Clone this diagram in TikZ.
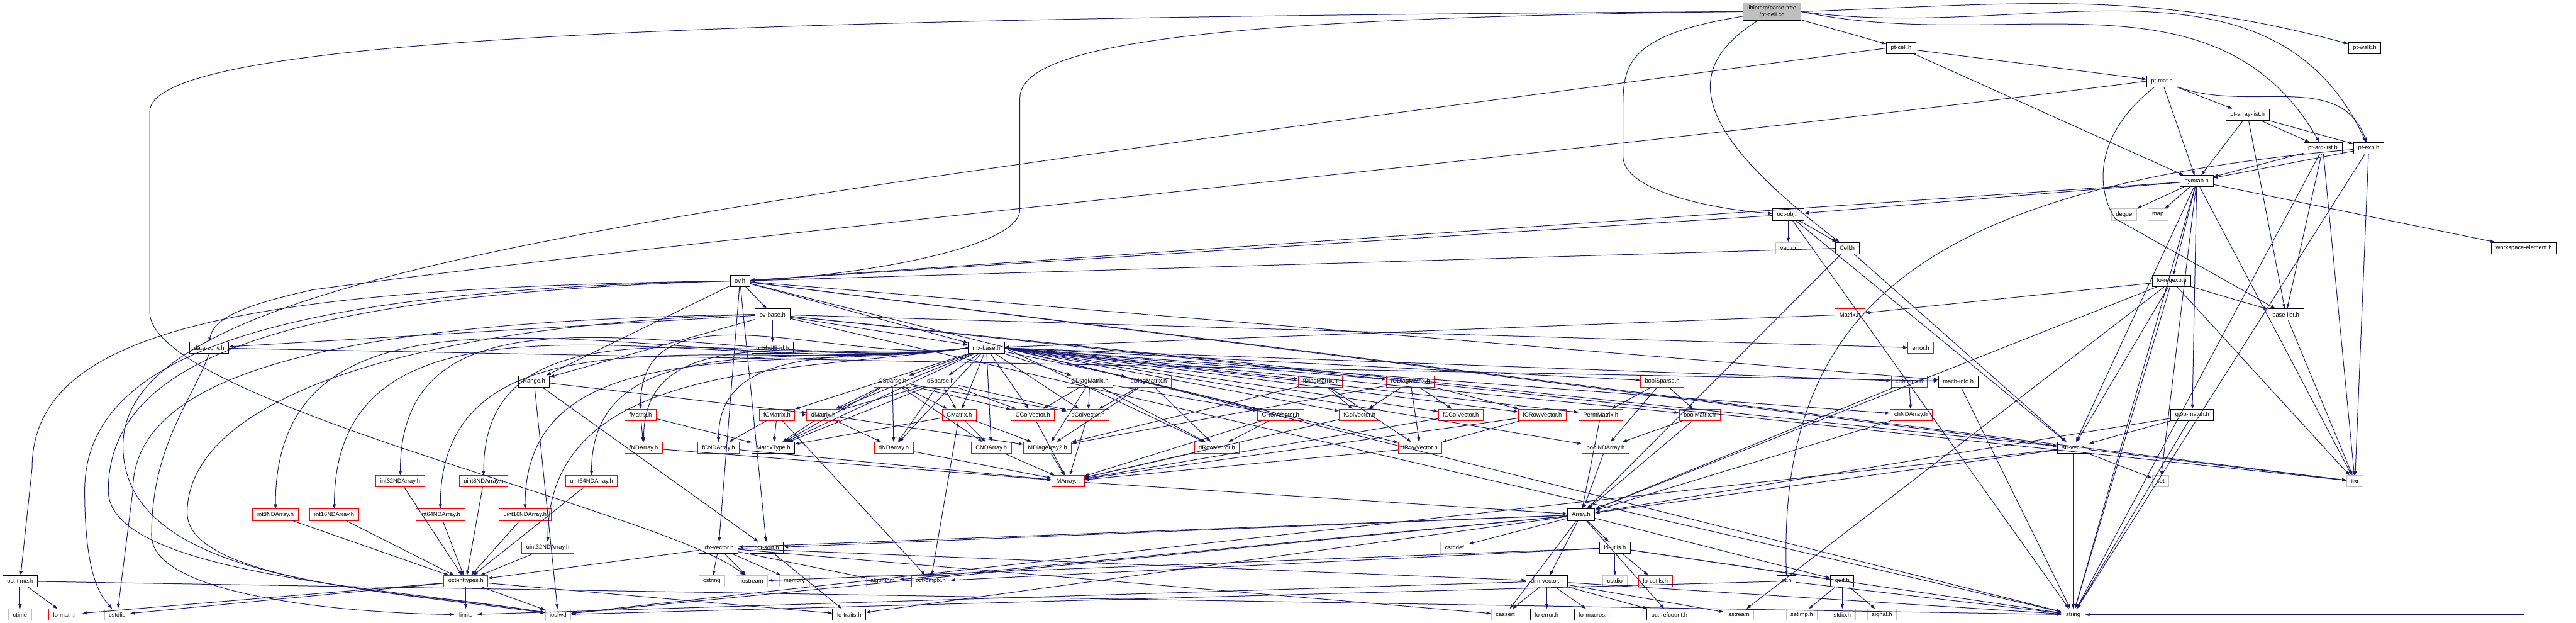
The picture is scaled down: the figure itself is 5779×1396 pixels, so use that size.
\documentclass[tikz,border=0pt]{standalone}
\usepackage{fontspec}
\setmainfont{Liberation Sans}
\usetikzlibrary{arrows.meta}
\definecolor{edgec}{RGB}{25,25,112}
\definecolor{rootfill}{RGB}{191,191,191}
\definecolor{gborder}{RGB}{191,191,191}
\definecolor{rborder}{RGB}{255,0,0}
\tikzset{
  nd/.style={rectangle, fill=white, font=\fontsize{3.75}{4.4}\selectfont, inner xsep=0.1cm, inner ysep=0pt, minimum height=0.255cm, line width=0.35pt},
  bnd/.style={nd, draw=black},
  rnd/.style={nd, draw=rborder},
  gnd/.style={nd, draw=gborder},
  rootnd/.style={nd, draw=black, fill=rootfill, align=center, minimum height=0.4cm, minimum width=1.28cm},
  e/.style={draw=edgec, line width=0.4pt, -{Triangle[length=1mm,width=0.7mm]}}
}
\begin{document}
\begin{tikzpicture}[x=0.01cm,y=-0.01cm]
\useasboundingbox (0,0) rectangle (5779,1396);
% nodes
\node[rootnd] (cc) at (3975,26) {libinterp/parse-tree\\/pt-cell.cc};
\node[bnd] (ptcellh) at (4265,108) {pt-cell.h};
\node[bnd] (ptwalk) at (5305,108) {pt-walk.h};
\node[bnd] (ptmat) at (4850,182) {pt-mat.h};
\node[bnd] (ptarraylist) at (5042,257) {pt-array-list.h};
\node[bnd] (ptarglist) at (5211,332) {pt-arg-list.h};
\node[bnd] (ptexp) at (5314,332) {pt-exp.h};
\node[bnd] (symtab) at (4928,406) {symtab.h};
\node[bnd] (octobj) at (4012,481) {oct-obj.h};
\node[gnd] (deque) at (4765,481) {deque};
\node[gnd] (map) at (4841,481) {map};
\node[gnd] (vector) at (4012,556) {vector};
\node[bnd] (cellh) at (4144,556) {Cell.h};
\node[bnd] (wse) at (5662,556) {workspace-element.h};
\node[bnd] (ovh) at (1660,630) {ov.h};
\node[bnd] (regexp) at (4872,630) {lo-regexp.h};
\node[bnd] (ovbase) at (1733,705) {ov-base.h};
\node[rnd] (matrixh) at (4150,705) {Matrix.h};
\node[bnd] (baselist) at (5128,705) {base-list.h};
\node[bnd] (dataconv) at (469,780) {data-conv.h};
\node[bnd] (hdf5) at (1733,780) {oct-hdf5-id.h};
\node[bnd] (mxbase) at (2213,780) {mx-base.h};
\node[rnd] (error) at (4309,780) {error.h};
\node[bnd] (range) at (1198,855) {Range.h};
\node[rnd] (csparse) at (2002,855) {CSparse.h};
\node[rnd] (dsparse) at (2110,855) {dSparse.h};
\node[rnd] (cdiag) at (2445,855) {CDiagMatrix.h};
\node[rnd] (ddiag) at (2577,855) {dDiagMatrix.h};
\node[rnd] (fdiag) at (2962,855) {fDiagMatrix.h};
\node[rnd] (fcdiag) at (3164,855) {fCDiagMatrix.h};
\node[rnd] (boolsparse) at (3729,855) {boolSparse.h};
\node[rnd] (chmatrix) at (4283,855) {chMatrix.h};
\node[bnd] (machinfo) at (4393,855) {mach-info.h};
\node[rnd] (fmatrix) at (1437,930) {fMatrix.h};
\node[rnd] (fcmatrix) at (1743,930) {fCMatrix.h};
\node[rnd] (dmatrix) at (1847,930) {dMatrix.h};
\node[rnd] (cmatrix) at (2152,930) {CMatrix.h};
\node[rnd] (ccolvec) at (2317,930) {CColVector.h};
\node[rnd] (dcolvec) at (2441,930) {dColVector.h};
\node[rnd] (crowvec) at (2873,930) {CRowVector.h};
\node[rnd] (fcolvec) at (3050,930) {fColVector.h};
\node[rnd] (fccolvec) at (3277,930) {fCColVector.h};
\node[rnd] (fcrowvec) at (3460,930) {fCRowVector.h};
\node[rnd] (permmatrix) at (3591,930) {PermMatrix.h};
\node[rnd] (boolmatrix) at (3813,930) {boolMatrix.h};
\node[rnd] (chndarray) at (4287,930) {chNDArray.h};
\node[bnd] (globmatch) at (4918,930) {glob-match.h};
\node[rnd] (fndarray) at (1444,1004) {fNDArray.h};
\node[rnd] (fcndarray) at (1612,1004) {fCNDArray.h};
\node[bnd] (matrixtype) at (1735,1004) {MatrixType.h};
\node[rnd] (dndarray) at (2005,1004) {dNDArray.h};
\node[rnd] (cndarray) at (2224,1004) {CNDArray.h};
\node[rnd] (mdiag2) at (2350,1004) {MDiagArray2.h};
\node[rnd] (drowvec) at (2730,1004) {dRowVector.h};
\node[rnd] (frowvec) at (3186,1004) {fRowVector.h};
\node[rnd] (boolnd) at (3602,1004) {boolNDArray.h};
\node[bnd] (strvec) at (4651,1004) {str-vec.h};
\node[rnd] (i32) at (898,1079) {int32NDArray.h};
\node[rnd] (u8) at (1085,1079) {uint8NDArray.h};
\node[rnd] (u64) at (1327,1079) {uint64NDArray.h};
\node[rnd] (marray) at (2396,1079) {MArray.h};
\node[gnd] (set) at (4847,1079) {set};
\node[gnd] (list) at (5283,1079) {list};
\node[rnd] (i8) at (618,1154) {int8NDArray.h};
\node[rnd] (i16) at (750,1154) {int16NDArray.h};
\node[rnd] (i64) at (988,1154) {int64NDArray.h};
\node[rnd] (u16) at (1178,1154) {uint16NDArray.h};
\node[bnd] (array) at (3547,1154) {Array.h};
\node[rnd] (u32) at (1229,1228) {uint32NDArray.h};
\node[bnd] (idxvec) at (1612,1228) {idx-vector.h};
\node[bnd] (octsort) at (1720,1228) {oct-sort.h};
\node[gnd] (cstddef) at (3263,1228) {cstddef};
\node[bnd] (loutils) at (3623,1228) {lo-utils.h};
\node[bnd] (octtime) at (45,1303) {oct-time.h};
\node[rnd] (inttypes) at (1045,1303) {oct-inttypes.h};
\node[gnd] (cstring) at (1597,1303) {cstring};
\node[gnd] (iostream) at (1687,1303) {iostream};
\node[gnd] (memory) at (1782,1303) {memory};
\node[gnd] (algorithm) at (1980,1303) {algorithm};
\node[rnd] (cmplx) at (2088,1303) {oct-cmplx.h};
\node[bnd] (dimvec) at (3470,1303) {dim-vector.h};
\node[gnd] (cstdio) at (3623,1303) {cstdio};
\node[rnd] (locutils) at (3714,1303) {lo-cutils.h};
\node[bnd] (pth) at (4008,1303) {pt.h};
\node[bnd] (quit) at (4133,1303) {quit.h};
\node[gnd] (ctime) at (45,1378) {ctime};
\node[rnd] (lomath) at (147,1378) {lo-math.h};
\node[gnd] (cstdlib) at (263,1378) {cstdlib};
\node[gnd] (limits) at (1045,1378) {limits};
\node[gnd] (iosfwd) at (1252,1378) {iosfwd};
\node[bnd] (lotraits) at (1905,1378) {lo-traits.h};
\node[gnd] (cassert) at (3377,1378) {cassert};
\node[bnd] (loerror) at (3470,1378) {lo-error.h};
\node[bnd] (lomacros) at (3577,1378) {lo-macros.h};
\node[bnd] (refcount) at (3745,1378) {oct-refcount.h};
\node[gnd] (sstream) at (3901,1378) {sstream};
\node[gnd] (setjmp) at (4042,1378) {setjmp.h};
\node[gnd] (stdio) at (4133,1378) {stdio.h};
\node[gnd] (signal) at (4222,1378) {signal.h};
\node[gnd] (string) at (4651,1378) {string};
% edges from pt-cell.cc
\draw[e] (cc.west) .. controls (1500,40) and (336,90) .. (336,250) -- (336,700) .. controls (336,900) and (1500,1150) .. (iostream);
\draw[e] (cc.west) .. controls (2700,40) and (2288,100) .. (2288,220) -- (2288,470) .. controls (2288,560) and (1900,620) .. (ovh);
\draw[e] (cc) .. controls (3641,80) and (3641,150) .. (3641,250) -- (3641,350) .. controls (3641,430) and (3850,470) .. (octobj);
\draw[e] (cc) .. controls (3780,150) and (3780,280) .. (cellh);
\draw[e] (cc) -- (ptcellh);
\draw[e] (cc.east) to[out=2,in=165] (ptwalk);
\draw[e] (cc.east) to[out=-8,in=115] (ptexp);
\draw[e] (cc.east) to[out=-12,in=120] (ptarglist);
% pt-cell.h
\draw[e] (ptcellh.west) .. controls (1500,470) and (276,600) .. (276,1000) .. controls (276,1320) and (900,1320) .. (iosfwd);
\foreach \t in {ptmat,symtab} \draw[e] (ptcellh) -- (\t);
% pt-mat.h
\draw[e] (ptmat.west) .. controls (3500,350) and (1500,540) .. (700,650) .. controls (520,690) and (479,720) .. (dataconv.north);
\foreach \t in {symtab,ptarraylist} \draw[e] (ptmat) -- (\t);
\draw[e] (ptmat) to[out=-20,in=110] (ptexp);
\draw[e] (ptmat) .. controls (4700,300) and (4700,420) .. (4745,490) -- (baselist);
\foreach \t in {symtab,baselist,ptarglist,ptexp} \draw[e] (ptarraylist) -- (\t);
\foreach \t in {symtab,baselist,list,string} \draw[e] (ptarglist) -- (\t);
\foreach \t in {symtab,string,list} \draw[e] (ptexp) -- (\t);
\draw[e] (ptexp) .. controls (4300,420) and (3990,700) .. (pth);
\foreach \t in {deque,map,regexp,globmatch,strvec,set,list,string,wse,octobj,ovh} \draw[e] (symtab) -- (\t);
\foreach \t in {matrixh,array,list,sstream,string,baselist,strvec} \draw[e] (regexp) -- (\t);
\foreach \t in {strvec,array,string} \draw[e] (globmatch) -- (\t);
\foreach \t in {iosfwd,array,set,list,string} \draw[e] (strvec) -- (\t);
\draw[e] (wse) -- (wse.south|-string.east) -- (string);
\draw[e] (baselist) -- (list);
\foreach \t in {string,vector,strvec,cellh,ovh} \draw[e] (octobj) -- (\t);
\foreach \t in {ovh,array,strvec} \draw[e] (cellh) -- (\t);
\draw[e] (matrixh) -- (mxbase);
% ov.h
\foreach \t in {string,list,range,idxvec,machinfo,strvec,octsort,ovbase,mxbase} \draw[e] (ovh) -- (\t);
\draw[e] (ovh.west) .. controls (500,645) and (72,750) .. (72,1050) -- (octtime);
\draw[e] (ovh.west) .. controls (600,650) and (190,800) .. (190,1100) .. controls (190,1300) and (230,1340) .. (cstdlib);
\draw[e] (ovh.west) .. controls (650,660) and (243,800) .. (243,1100) .. controls (243,1290) and (900,1320) .. (iosfwd);
% ov-base.h
\foreach \t in {list,string,range,dataconv,mxbase,strvec,error,hdf5} \draw[e] (ovbase) -- (\t);
\draw[e] (ovbase.west) .. controls (700,720) and (298,850) .. (298,1100) -- (cstdlib);
\draw[e] (ovbase.west) .. controls (900,730) and (420,900) .. (420,1150) .. controls (420,1300) and (900,1330) .. (iosfwd);
% mx-base.h
\foreach \t in {csparse,dsparse,cdiag,ddiag,fcmatrix,dmatrix,cmatrix,ccolvec,dcolvec,matrixtype,dndarray,cndarray} \draw[e] (mxbase) -- (\t);
\foreach \t in {fmatrix,fndarray,fcndarray,i8,i16,i32,i64,u8,u16,u32,u64} \draw[e] (mxbase.west) to[out=188,in=90] (\t.north);
\foreach \t in {fdiag,fcdiag,boolsparse,chmatrix,crowvec,fcolvec,fccolvec,fcrowvec,permmatrix,boolmatrix,chndarray,drowvec,frowvec,boolnd} \draw[e] (mxbase.east) -- (\t);
\foreach \t in {dmatrix,cmatrix,ccolvec,dcolvec,dndarray,cndarray,matrixtype} \draw[e] (csparse) -- (\t);
\foreach \t in {dmatrix,cmatrix,ccolvec,dcolvec,dndarray,matrixtype} \draw[e] (dsparse) -- (\t);
\foreach \t in {ccolvec,dcolvec,crowvec,drowvec,mdiag2} \draw[e] (cdiag) -- (\t);
\foreach \t in {dcolvec,drowvec,mdiag2} \draw[e] (ddiag) -- (\t);
\foreach \t in {fcolvec,frowvec,mdiag2} \draw[e] (fdiag) -- (\t);
\foreach \t in {fcolvec,fccolvec,fcrowvec,frowvec,mdiag2} \draw[e] (fcdiag) -- (\t);
\foreach \t in {permmatrix,boolmatrix,boolnd} \draw[e] (boolsparse) -- (\t);
\foreach \t in {chndarray,array} \draw[e] (chmatrix) -- (\t);
\foreach \t in {fndarray,matrixtype} \draw[e] (fmatrix) -- (\t);
\foreach \t in {fcndarray,matrixtype,dmatrix,cmplx} \draw[e] (fcmatrix) -- (\t);
\foreach \t in {dndarray,matrixtype,mdiag2} \draw[e] (dmatrix) -- (\t);
\foreach \t in {cndarray,matrixtype,mdiag2,cmplx} \draw[e] (cmatrix) -- (\t);
\foreach \s in {ccolvec,dcolvec,crowvec,fcolvec,fccolvec,fcrowvec,fndarray,fcndarray,dndarray,cndarray,mdiag2,drowvec,frowvec} \draw[e] (\s) -- (marray);
\draw[e] (crowvec) -- (drowvec);
\draw[e] (fcrowvec) -- (frowvec);
\foreach \s in {permmatrix,boolmatrix,boolnd,chndarray,marray} \draw[e] (\s) -- (array);
\draw[e] (boolmatrix) -- (boolnd);
\foreach \s in {i8,i16,i32,i64,u8,u16,u32,u64} \draw[e] (\s) -- (inttypes);
\foreach \t in {iosfwd,dmatrix,octsort} \draw[e] (range) -- (\t);
\foreach \t in {lomath,cstdlib,limits,iosfwd,lotraits} \draw[e] (inttypes) -- (\t);
\foreach \t in {cstring,iostream,memory,algorithm,dimvec,inttypes,cassert} \draw[e] (idxvec) -- (\t);
\draw[e] (octsort) -- (lotraits);
\foreach \t in {cassert,cstddef,iosfwd,algorithm,dimvec,idxvec,lotraits,loutils,octsort,quit,refcount} \draw[e] (array) -- (\t);
\foreach \t in {cstdio,locutils,quit,string,cmplx,iostream} \draw[e] (loutils) -- (\t);
\foreach \t in {cassert,loerror,lomacros,refcount,sstream,string,limits} \draw[e] (dimvec) -- (\t);
\foreach \t in {string,iosfwd} \draw[e] (pth) -- (\t);
\foreach \t in {setjmp,stdio,signal} \draw[e] (quit) -- (\t);
\foreach \t in {ctime,lomath,string} \draw[e] (octtime) -- (\t);
\draw[e] (dataconv) -- (machinfo);
\draw[e] (dataconv.south) .. controls (430,900) and (340,1000) .. (340,1200) .. controls (340,1340) and (800,1375) .. (limits);
\draw[e] (machinfo) -- (string);
\end{tikzpicture}
\end{document}
